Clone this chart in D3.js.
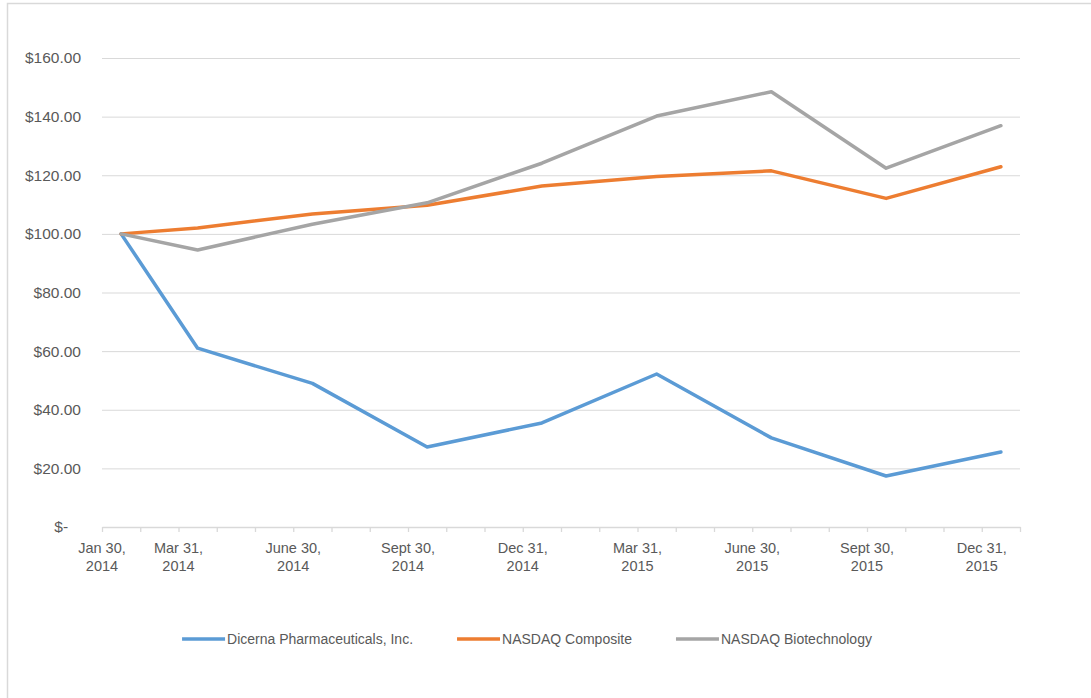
<!DOCTYPE html>
<html>
<head>
<meta charset="utf-8">
<script src="https://cdn.jsdelivr.net/npm/d3@7"></script>
<style>
    body { margin: 0; background: #fff; }
    svg { display: block; font-family: "Liberation Sans", Arial, sans-serif; }
</style>
</head>
<body>
<svg></svg>
<script>
// ------------------- DATA ----------------------
const dates = ["2014-01-30", "2014-03-31", "2014-06-30", "2014-09-30", "2014-12-31",
               "2015-03-31", "2015-06-30", "2015-09-30", "2015-12-31"];
const dateLabels = [["Jan 30,", "2014"], ["Mar 31,", "2014"], ["June 30,", "2014"], ["Sept 30,", "2014"],
                    ["Dec 31,", "2014"], ["Mar 31,", "2015"], ["June 30,", "2015"], ["Sept 30,", "2015"],
                    ["Dec 31,", "2015"]];
const dicerna = [100, 61, 49, 27.3, 35.5, 52.2, 30.4, 17.4, 25.6];
const nasdaqComposite = [100, 102, 106.8, 109.8, 116.3, 119.6, 121.5, 112.1, 122.9];
const nasdaqBiotech = [100, 94.5, 103.3, 110.6, 124.1, 140.2, 148.5, 122.4, 136.9];
const seriesNames = ["Dicerna Pharmaceuticals, Inc.", "NASDAQ Composite", "NASDAQ Biotechnology"];
const yTicks = [0, 20, 40, 60, 80, 100, 120, 140, 160];

const series = [
    {name: seriesNames[0], values: dicerna, color: "#5b9bd5"},
    {name: seriesNames[1], values: nasdaqComposite, color: "#ed7d31"},
    {name: seriesNames[2], values: nasdaqBiotech, color: "#a5a5a5"}
];

// ------------------- SVG ----------------------
const svgW = 1091, svgH = 698;
const plotL = 102, plotR = 1020, plotT = 58, plotB = 527;

const svg = d3.select("svg")
    .attr("width", svgW)
    .attr("height", svgH)
;

// chart area border (only top + left visible in the crop)
svg.append("rect")
    .attr("x", 7.5)
    .attr("y", 3.5)
    .attr("width", svgW + 20)
    .attr("height", svgH + 20)
    .attr("fill", "none")
    .attr("stroke", "#d9d9d9")
    .attr("stroke-width", 1.5)
;

// month based date axis, every point sits in the middle of its month
const parse = d3.timeParse("%Y-%m-%d");
const monthKey = d3.timeFormat("%Y-%m");
const months = d3.timeMonth.range(new Date(2014, 0, 1), new Date(2016, 0, 1)).map(monthKey);

const xScale = d3.scaleBand()
    .domain(months)
    .range([plotL, plotR])
    .padding(0)
;
const xMid = (d) => xScale(monthKey(parse(d))) + xScale.bandwidth() / 2;

const yScale = d3.scaleLinear()
    .domain([0, 160])
    .range([plotB, plotT])
;

// gridlines + y labels
const yAxis = d3.axisLeft(yScale)
    .tickValues(yTicks)
    .tickSize(-(plotR - plotL))
    .tickPadding(21)
    .tickFormat((d) => d === 0 ? "$-\u00a0\u00a0\u00a0" : "$" + d3.format(".2f")(d))
;

svg.append("g")
    .attr("transform", `translate(${plotL},0)`)
    .call(yAxis)
    .call((g) => g.select(".domain").remove())
    .call((g) => g.selectAll("line").attr("stroke", "#d9d9d9").attr("stroke-width", 1))
    .call((g) => g.selectAll("text")
        .attr("fill", "#595959")
        .attr("font-size", 15.5)
        .attr("font-family", "Liberation Sans, Arial, sans-serif"))
;

// x axis line + monthly tick marks
const xAxis = d3.axisBottom(d3.scaleLinear().domain([0, months.length]).range([plotL, plotR]))
    .ticks(months.length)
    .tickSize(5)
    .tickSizeOuter(0)
    .tickFormat("")
;

svg.append("g")
    .attr("transform", `translate(0,${plotB})`)
    .call(xAxis)
    .call((g) => g.selectAll("line, path").attr("stroke", "#d9d9d9").attr("stroke-width", 1.3))
;

// ----- date labels -----
const xLabels = svg.append("g")
    .selectAll("text")
    .data(dates)
    .enter()
    .append("text")
    .attr("text-anchor", "middle")
    .attr("fill", "#595959")
    .attr("font-size", 14.5)
;

xLabels.each(function (d, i) {
    const t = d3.select(this);
    const x = xScale(monthKey(parse(d)));
    dateLabels[i].forEach((line, j) => {
        t.append("tspan")
            .attr("x", x)
            .attr("y", 553 + j * 18)
            .text(line);
    });
});

// ----- lines -----
const line = d3.line()
    .x((d, i) => xMid(dates[i]))
    .y((d) => yScale(d))
;

svg.append("g")
    .selectAll("path")
    .data(series)
    .enter()
    .append("path")
    .attr("d", (d) => line(d.values))
    .attr("fill", "none")
    .attr("stroke", (d) => d.color)
    .attr("stroke-width", 3.5)
    .attr("stroke-linejoin", "round")
    .attr("stroke-linecap", "round")
;

// ----- legend -----
const legendY = 639, swatchW = 43, itemGap = 44;
const legend = svg.append("g");

let lx = 0;
series.forEach((s) => {
    const g = legend.append("g").attr("transform", `translate(${lx},0)`);
    g.append("line")
        .attr("x1", 0)
        .attr("x2", swatchW)
        .attr("y1", legendY)
        .attr("y2", legendY)
        .attr("stroke", s.color)
        .attr("stroke-width", 3.5)
    ;
    const txt = g.append("text")
        .attr("x", swatchW + 2)
        .attr("y", legendY + 5)
        .attr("fill", "#595959")
        .attr("font-size", 14)
        .text(s.name)
    ;
    lx += swatchW + 2 + txt.node().getComputedTextLength() + itemGap;
});
lx -= itemGap;
legend.attr("transform", `translate(${527 - lx / 2},0)`);
</script>
</body>
</html>
